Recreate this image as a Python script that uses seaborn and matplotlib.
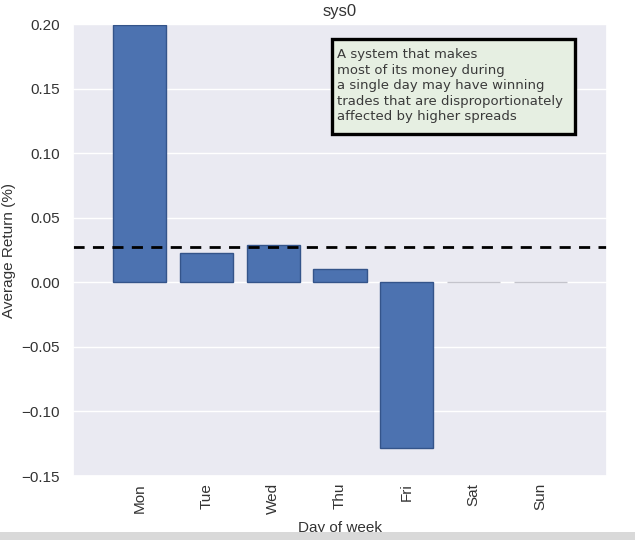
import matplotlib
matplotlib.use("Agg")
import matplotlib.pyplot as plt
import seaborn as sns
from matplotlib.patches import Rectangle

days = ['Mon', 'Tue', 'Wed', 'Thu', 'Fri', 'Sat', 'Sun']
avg_return = [0.199, 0.023, 0.0288, 0.0102, -0.1285, 0.0, 0.0]
weekday_mean = 0.027
note = ("A system that makes\nmost of its money during\na single day may have winning\n"
        "trades that are disproportionately\naffected by higher spreads")

sns.set_theme(style='darkgrid')
plt.rcParams['font.family'] = ['Liberation Sans', 'DejaVu Sans']

fig = plt.figure(figsize=(6.35, 5.4), dpi=100)
ax = fig.add_axes([0.115, 0.1185, 0.841, 0.837])

sns.barplot(x=days, y=avg_return, color='#4C72B0', saturation=1, width=0.8,
            edgecolor='#34548a', linewidth=1, ax=ax)
# zero-height weekend bars show only a faint line
for p, v in zip(ax.patches, avg_return):
    if v == 0:
        p.set_edgecolor('#c4c4cc')

ax.axhline(weekday_mean, color='black', linestyle='--', linewidth=2, dashes=(4, 3))
ax.set_xlim(-1, 7)
ax.set_ylim(-0.15, 0.2)
ax.set_yticks([-0.15, -0.10, -0.05, 0.00, 0.05, 0.10, 0.15, 0.20])
ax.set_yticklabels(['\u22120.15', '\u22120.10', '\u22120.05', '0.00', '0.05', '0.10', '0.15', '0.20'])
ax.tick_params(axis='x', rotation=90, labelsize=11, pad=-1, labelcolor='#333333')
ax.tick_params(axis='y', labelsize=11, labelcolor='#333333')
ax.set_title('sys0', fontsize=12, pad=6, color='#333333')
ax.set_xlabel('Day of week', fontsize=11, labelpad=5, color='#333333')
ax.set_ylabel('Average Return (%)', fontsize=11, color='#333333')

# note box drawn as its own frame so the padding can match
ax.add_patch(Rectangle((0.485, 0.757), 0.455, 0.21, transform=ax.transAxes,
                       facecolor='#e6efe2', edgecolor='black', linewidth=2.4, zorder=5))
ax.text(0.494, 0.946, note, transform=ax.transAxes, ha='left', va='top',
        fontsize=9.5, family='DejaVu Sans', color='#3a3a3a', linespacing=1.25, zorder=6)

fig.patches.append(Rectangle((0, 0), 1, 8 / 540, transform=fig.transFigure,
                             facecolor='#d9d9d9', edgecolor='none', zorder=10))

fig.savefig('out.png', dpi=100)
